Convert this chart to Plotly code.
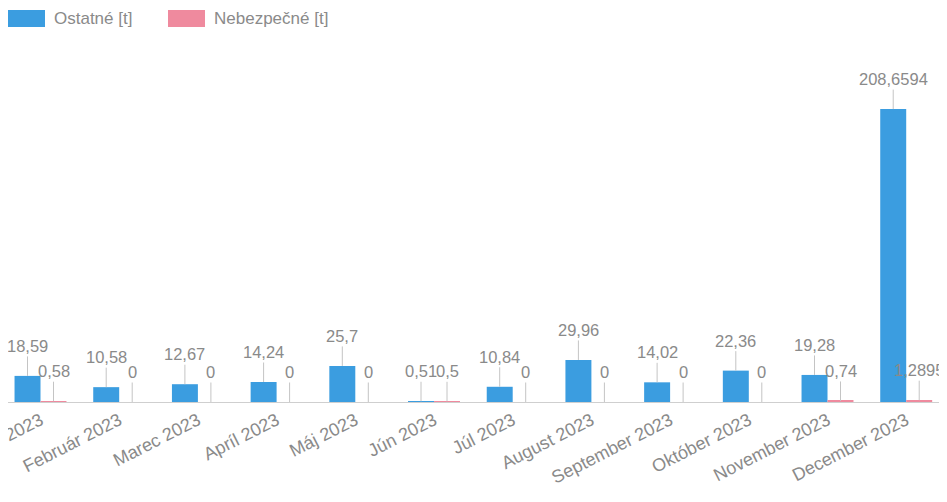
import plotly.graph_objects as go

categories = ["Január 2023", "Február 2023", "Marec 2023", "Apríl 2023", "Máj 2023", "Jún 2023",
              "Júl 2023", "August 2023", "September 2023", "Október 2023", "November 2023", "December 2023"]
ostatne = [18.59, 10.58, 12.67, 14.24, 25.7, 0.51, 10.84, 29.96, 14.02, 22.36, 19.28, 208.6594]
nebezpecne = [0.58, 0, 0, 0, 0, 0.5, 0, 0, 0, 0, 0.74, 1.2895]
series_names = ["Ostatné [t]", "Nebezpečné [t]"]
colors = ["#3b9de0", "#ef8a9e"]

FONT = "Liberation Sans, Arial, sans-serif"
TXT = "#8a8a8a"

W, H = 947, 502
T, B = 30, 108
PLOT_H = H - T - B

fig = go.Figure()
for name, vals, col in zip(series_names, [ostatne, nebezpecne], colors):
    fig.add_trace(go.Bar(x=categories, y=vals, name=name, marker_color=col,
                         marker_line_width=0, showlegend=False))

def fmt(v):
    return str(v).replace(".", ",")

annotations = []
for vals, shift in [(ostatne, -13), (nebezpecne, 13)]:
    for c, v in zip(categories, vals):
        annotations.append(dict(x=c, y=v, xref="x", yref="y", text=fmt(v), xshift=shift,
                                showarrow=True, arrowhead=0, arrowwidth=1, arrowcolor="#c4c4c4",
                                ax=0, ay=-30, font=dict(family=FONT, size=16.5, color=TXT)))

# legend (drawn as boxes + labels)
shapes = []
leg_x = [0, 160]
for i, (name, col) in enumerate(zip(series_names, colors)):
    x0 = leg_x[i]
    shapes.append(dict(type="rect", xref="paper", yref="paper",
                       x0=x0 / W, x1=(x0 + 37) / W,
                       y0=(H - B - 19) / PLOT_H, y1=(H - B - 2) / PLOT_H,
                       fillcolor=col, line_width=0))
    annotations.append(dict(x=(x0 + 44) / W, y=(H - B - 10.5) / PLOT_H, xref="paper", yref="paper",
                            text=name, showarrow=False, xanchor="left", yanchor="middle",
                            font=dict(family=FONT, size=17, color=TXT)))

fig.update_layout(
    width=W, height=H,
    margin=dict(l=0, r=0, t=T, b=B, autoexpand=False),
    paper_bgcolor="white", plot_bgcolor="white",
    barmode="group", bargap=0.34, bargroupgap=0,
    xaxis=dict(showgrid=False, showline=True, linecolor="#cfcfcf", linewidth=1, automargin=False,
               ticks="", tickangle=-27, tickfont=dict(family=FONT, size=18, color=TXT),
               range=[-0.413, 11.62]),
    yaxis=dict(visible=False, range=[0, 259.3], automargin=False),
    annotations=annotations, shapes=shapes,
)

fig.write_html("out.html")
